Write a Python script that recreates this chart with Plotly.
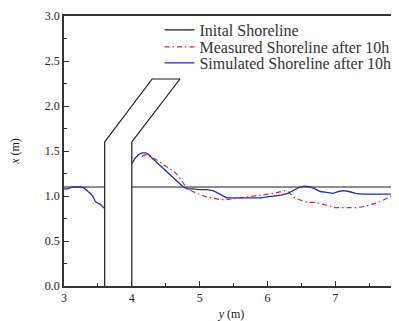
import plotly.graph_objects as go

# Initial shoreline + groin outline (None = break)
init_x = [3.0, 3.6, None, 3.6, 3.6, 4.3, 4.71, 4.0, 4.0, None, 4.0, 8.0]
init_y = [1.1, 1.1, None, 0.0, 1.6, 2.3, 2.3, 1.6, 0.0, None, 1.1, 1.1]

sim_x = [3.0, 3.05, 3.13, 3.2, 3.26, 3.31, 3.36, 3.40, 3.43, 3.46, 3.50, 3.53, 3.56, 3.6,
         None,
         4.0, 4.05, 4.1, 4.15, 4.2, 4.25, 4.3, 4.4, 4.5, 4.6, 4.7, 4.76, 4.82, 4.9, 5.0,
         5.1, 5.2, 5.3, 5.4, 5.5, 5.6, 5.7, 5.8, 5.9, 6.0, 6.1, 6.2, 6.3, 6.4, 6.48,
         6.55, 6.63, 6.7, 6.78, 6.87, 6.97, 7.05, 7.12, 7.2, 7.3, 7.4, 7.5, 7.6, 7.7,
         7.81, 7.88, 7.94]
sim_y = [1.08, 1.08, 1.10, 1.10, 1.10, 1.08, 1.05, 1.02, 0.99, 0.94, 0.92, 0.91, 0.89, 0.86,
         None,
         1.36, 1.42, 1.46, 1.48, 1.48, 1.46, 1.42, 1.35, 1.28, 1.21, 1.14, 1.10, 1.08, 1.08, 1.07,
         1.07, 1.06, 1.02, 0.98, 0.98, 0.98, 0.98, 0.98, 0.98, 0.99, 1.00, 1.01, 1.03, 1.07, 1.10,
         1.11, 1.10, 1.08, 1.05, 1.04, 1.03, 1.05, 1.06, 1.05, 1.03, 1.02, 1.02, 1.02, 1.02,
         1.02, 1.04, 1.05]

meas_x = [4.15, 4.2, 4.25, 4.3, 4.37, 4.45, 4.55, 4.64, 4.72, 4.78, 4.85, 4.95, 5.03, 5.1,
          5.18, 5.3, 5.4, 5.5, 5.6, 5.7, 5.8, 5.9, 6.0, 6.1, 6.2, 6.25, 6.3, 6.35, 6.4, 6.5,
          6.6, 6.7, 6.8, 6.9, 7.0, 7.1, 7.2, 7.3, 7.4, 7.5, 7.6, 7.7, 7.78, 7.85, 7.94]
meas_y = [1.44, 1.46, 1.45, 1.43, 1.40, 1.36, 1.31, 1.26, 1.19, 1.12, 1.07, 1.03, 1.01, 0.99,
          0.98, 0.96, 0.96, 0.97, 0.98, 0.99, 1.00, 1.01, 1.02, 1.03, 1.05, 1.06, 1.05, 1.01, 0.98, 0.95,
          0.93, 0.93, 0.91, 0.89, 0.87, 0.87, 0.87, 0.87, 0.88, 0.90, 0.92, 0.95, 0.98, 1.01, 1.05]

names = ["Inital Shoreline", "Measured Shoreline after 10h", "Simulated Shoreline after 10h"]

font = "Liberation Serif"
axc = "#333333"

fig = go.Figure()
fig.add_trace(go.Scatter(x=init_x, y=init_y, mode="lines", name=names[0], legend="legend",
                         line=dict(color="#1a1a1a", width=1.2), connectgaps=False))
fig.add_trace(go.Scatter(x=meas_x, y=meas_y, mode="lines", name=names[1], legend="legend2",
                         line=dict(color="#e8242a", width=1.2, dash="5px,3px,1.5px,3px")))
fig.add_trace(go.Scatter(x=sim_x, y=sim_y, mode="lines", name=names[2], legend="legend3",
                         line=dict(color="#2a2aa8", width=1.3), connectgaps=False))

leg_font = dict(family=font, size=16, color="#333333")
def leg(yc):
    return dict(x=0.285, y=yc, xanchor="left", yanchor="middle", bgcolor="rgba(0,0,0,0)",
                font=leg_font, itemwidth=30, borderwidth=0)

# body has an 8px margin, so the figure is sized to fill the rest of the window
fig.update_layout(
    width=391, height=313,
    margin=dict(l=56, r=0, t=8, b=35, autoexpand=False),
    plot_bgcolor="white", paper_bgcolor="white",
    font=dict(family=font, size=12, color="#222222"),
    showlegend=True,
    legend=leg(0.948), legend2=leg(0.885), legend3=leg(0.826),
    xaxis=dict(range=[3, 7.94], showgrid=False, zeroline=False, automargin=False,
               showline=True, linecolor=axc, linewidth=1.5, mirror=True,
               ticks="inside", ticklen=5, tickcolor=axc, tickwidth=1,
               tickvals=[3, 4, 5, 6, 7], ticktext=["3", "4", "5", "6", "7"],
               minor=dict(ticks="inside", ticklen=3, tickvals=[3.5, 4.5, 5.5, 6.5, 7.5],
                          tickcolor=axc),
               title=dict(text="<i>y</i> (m)", font=dict(family=font, size=12)),
               tickfont=dict(family=font, size=12)),
    yaxis=dict(range=[0, 3], showgrid=False, zeroline=False, automargin=False,
               showline=True, linecolor=axc, linewidth=1.5,
               ticks="inside", ticklen=5, tickcolor=axc, tickwidth=1,
               tickvals=[0, 0.5, 1.0, 1.5, 2.0, 2.5, 3.0],
               ticktext=["0.0", "0.5", "1.0", "1.5", "2.0", "2.5", "3.0"],
               minor=dict(ticks="inside", ticklen=3,
                          tickvals=[0.25, 0.75, 1.25, 1.75, 2.25, 2.75], tickcolor=axc),
               title=dict(text="<i>x</i> (m)", font=dict(family=font, size=12), standoff=28),
               tickfont=dict(family=font, size=12)),
)

fig.write_html("out.html")
